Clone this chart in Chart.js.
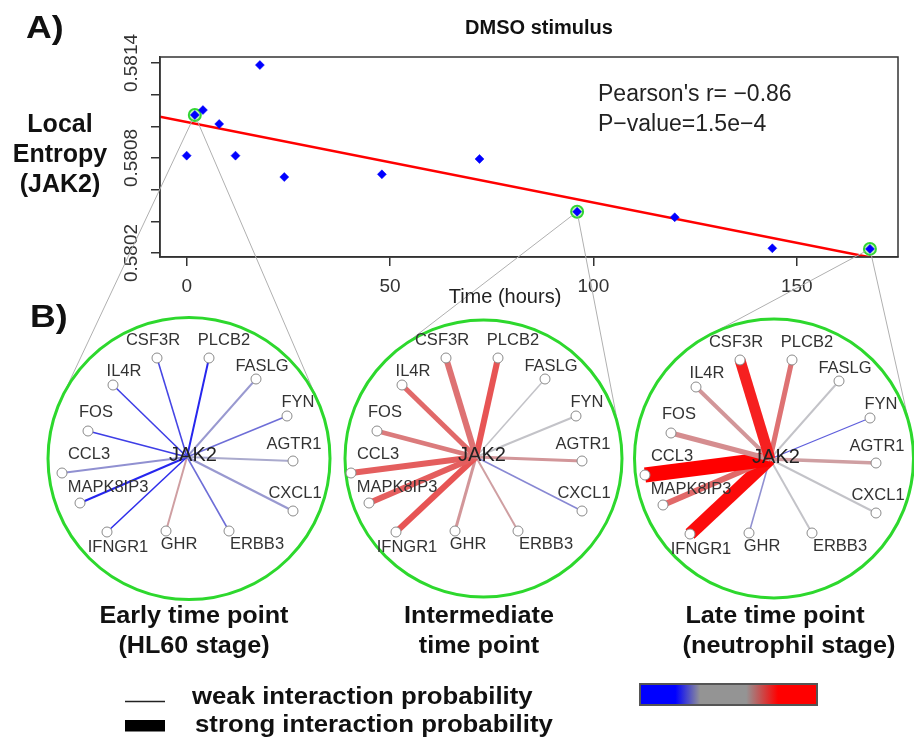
<!DOCTYPE html>
<html><head><meta charset="utf-8">
<script src="https://cdn.jsdelivr.net/npm/chart.js@4/dist/chart.umd.min.js"></script>
<style>
html,body{margin:0;padding:0;background:#fff;width:914px;height:738px;overflow:hidden;}
#wrap{position:relative;width:914px;height:738px;font-family:"Liberation Sans",Arial,sans-serif;color:#111;}
canvas{position:absolute;left:0;top:0;}
.t{position:absolute;white-space:nowrap;}
.b{font-weight:bold;}
.c{transform:translateX(-50%);text-align:center;}
</style></head>
<body><div id="wrap">
<canvas id="cA" width="914" height="738"></canvas>
<canvas id="cB" width="914" height="738"></canvas>
<div class="t b" style="left:26px;top:12px;font-size:31px;line-height:31px;transform:scaleX(1.15);transform-origin:left;">A)</div>
<div class="t b c" style="left:539px;top:17px;font-size:20px;line-height:20px;">DMSO stimulus</div>
<div class="t b c" style="left:60px;top:108px;font-size:25px;line-height:30px;">Local<br>Entropy<br>(JAK2)</div>
<div class="t" style="left:598px;top:78px;font-size:23px;line-height:30px;color:#222;">Pearson's r= −0.86<br>P−value=1.5e−4</div>
<div class="t c" style="left:505px;top:286px;font-size:20px;line-height:20px;color:#222;">Time (hours)</div>
<div class="t b" style="left:30px;top:301px;font-size:31px;line-height:31px;transform:scaleX(1.15);transform-origin:left;">B)</div>
<div class="t b" style="left:194px;top:603px;font-size:24px;line-height:24px;transform:translateX(-50%) scaleX(1.05);">Early time point</div>
<div class="t b" style="left:194px;top:633px;font-size:24px;line-height:24px;transform:translateX(-50%) scaleX(1.05);">(HL60 stage)</div>
<div class="t b" style="left:479px;top:603px;font-size:24px;line-height:24px;transform:translateX(-50%) scaleX(1.05);">Intermediate</div>
<div class="t b" style="left:479px;top:633px;font-size:24px;line-height:24px;transform:translateX(-50%) scaleX(1.05);">time point</div>
<div class="t b" style="left:775px;top:603px;font-size:24px;line-height:24px;transform:translateX(-50%) scaleX(1.05);">Late time point</div>
<div class="t b" style="left:789px;top:633px;font-size:24px;line-height:24px;transform:translateX(-50%) scaleX(1.05);">(neutrophil stage)</div>
<div class="t b" style="left:192px;top:685px;font-size:23px;line-height:23px;transform:scaleX(1.12);transform-origin:left;">weak interaction probability</div>
<div class="t b" style="left:195px;top:713px;font-size:23px;line-height:23px;transform:scaleX(1.12);transform-origin:left;">strong interaction probability</div>
</div>
<script>
// ---------------- data ----------------
const times = [0, 2, 4, 8, 12, 18, 24, 48, 72, 96, 120, 144, 168];
const entropy = [0.580815, 0.581072, 0.581103, 0.581015, 0.580815, 0.581387, 0.580680,
                 0.580697, 0.580794, 0.580461, 0.580426, 0.580230, 0.580226];
const highlightTimes = [2, 96, 168];           // early, intermediate, late
const fitTimes = [-6.56, 174.9];
const fitValues = [0.581061, 0.580138];
const xTickValues = [0, 50, 100, 150];
const xTickLabels = ['0', '50', '100', '150'];
const yTickValues = [0.5802, 0.5804, 0.5806, 0.5808, 0.5810, 0.5812, 0.5814];
const yLabelValues = [0.5802, 0.5808, 0.5814];
const yLabelTexts = ['0.5802', '0.5808', '0.5814'];

const hubGene = 'JAK2';
const genes = ['CSF3R','PLCB2','FASLG','IL4R','FYN','FOS','AGTR1','CCL3','MAPK8IP3','CXCL1','IFNGR1','GHR','ERBB3'];
const layoutX = [-0.24, 0.176, 0.552, -0.592, 0.80, -0.792, 0.848, -1.0, -0.856, 0.848, -0.64, -0.168, 0.336];
const layoutY = [0.792, 0.792, 0.624, 0.576, 0.328, 0.208, -0.032, -0.128, -0.368, -0.432, -0.60, -0.592, -0.592];
// edge sign/colour value (-1 blue ... 0 grey ... 1 red)
const colorEarly = [-0.75, -0.95, -0.25, -0.8, -0.5, -0.8, -0.15, -0.3, -0.95, -0.25, -0.9, 0.2, -0.5];
const colorMid   = [0.45, 0.6, 0, 0.5, 0, 0.4, 0.25, 0.55, 0.55, -0.35, 0.6, 0.25, 0.2];
const colorLate  = [0.85, 0.45, 0, 0.25, -0.6, 0.3, 0.2, 1.0, 0.5, 0, 0.95, -0.3, 0];
// interaction probability (edge width)
const probEarly = [0.04, 0.07, 0.07, 0.04, 0.04, 0.04, 0.08, 0.07, 0.07, 0.1, 0.04, 0.07, 0.04];
const probMid   = [0.36, 0.36, 0.04, 0.29, 0.07, 0.25, 0.14, 0.36, 0.36, 0.04, 0.36, 0.14, 0.07];
const probLate  = [0.71, 0.29, 0.07, 0.21, 0.02, 0.29, 0.18, 1.0, 0.36, 0.07, 0.86, 0.04, 0.07];

// ---------------- style / layout ----------------
const FONT = '"Liberation Sans", Arial, sans-serif';
Chart.defaults.font.family = FONT;
const W = 914, H = 738, U = 125;
const panelHubX = [187, 476, 770];
const panelHubY = [457, 457, 459];
const panelCircles = [[189, 458.5, 141], [483.5, 458.5, 138.5], [774, 458.5, 139.5]];
const labelOffsets = {CSF3R:[-4,-18], PLCB2:[15,-18], FASLG:[6,-13], IL4R:[11,-14], FYN:[11,-14],
  FOS:[8,-19], AGTR1:[1,-17], CCL3:[27,-19], MAPK8IP3:[28,-16], CXCL1:[2,-18],
  IFNGR1:[11,15], GHR:[13,13], ERBB3:[28,13]};
const hubLabelOffset = [6, -1.5];
const edgeStops = [[-1,[30,30,240]],[-0.5,[110,110,215]],[0,[195,195,200]],[0.5,[225,105,105]],[1,[255,0,0]]];
function edgeColor(c){
  for (let i=0;i<edgeStops.length-1;i++){
    const [a,ca]=edgeStops[i],[b,cb]=edgeStops[i+1];
    if (c<=b || i===edgeStops.length-2){
      const t=Math.max(0,Math.min(1,(c-a)/(b-a)));
      return 'rgb('+ca.map((v,k)=>Math.round(v+(cb[k]-v)*t)).join(',')+')';
    }
  }
}
const edgeWidth = p => 1 + 14*p;

// ---------------- chart A : scatter ----------------
const axisCommon = {
  grid:{drawOnChartArea:false, drawTicks:true, tickLength:9, color:'#333', lineWidth:1.5},
  border:{display:true, color:'#333', width:1.5}
};
const chartA = new Chart(document.getElementById('cA'), {
  type:'scatter',
  data:{datasets:[
    {label:'Local entropy', data:times.map((t,i)=>({x:t,y:entropy[i]})), pointStyle:'rectRot',
     pointRadius:4.5, pointBackgroundColor:'#0000ff', pointBorderColor:'#0000ff', pointBorderWidth:0.5, order:0},
    {label:'Selected', data:highlightTimes.map(t=>({x:t,y:entropy[times.indexOf(t)]})), pointStyle:'circle',
     pointRadius:6, pointBackgroundColor:'rgba(150,235,150,0.55)', pointBorderColor:'#33d633', pointBorderWidth:2, order:1},
    {label:'Fit', data:fitTimes.map((t,i)=>({x:t,y:fitValues[i]})), showLine:true, borderColor:'#ff0000',
     borderWidth:2.5, pointRadius:0, clip:0, order:2}
  ]},
  options:{
    responsive:false, devicePixelRatio:1, animation:false, events:[],
    layout:{autoPadding:false, padding:{left:0, top:57, right:16, bottom:431}},
    plugins:{legend:{display:false}, tooltip:{enabled:false}, title:{display:false}},
    scales:{
      x:Object.assign({type:'linear', min:-6.56, max:174.9,
        afterBuildTicks:s=>{s.ticks=xTickValues.map(v=>({value:v}));},
        afterFit:s=>{s.height=50;},
        ticks:{autoSkip:false, maxRotation:0, minRotation:0, padding:9, color:'#333',
               font:{size:19}, callback:(v,i)=>xTickLabels[i]}}, axisCommon),
      y:Object.assign({type:'linear', min:0.580175, max:0.581438,
        afterBuildTicks:s=>{s.ticks=yTickValues.map(v=>({value:v}));},
        afterFit:s=>{s.width=160;},
        ticks:{display:false}}, axisCommon)
    }
  },
  plugins:[{id:'boxA', afterDraw(chart){
    const ctx=chart.ctx, ca=chart.chartArea;
    ctx.save();
    ctx.strokeStyle='#333'; ctx.lineWidth=1.5;
    ctx.strokeRect(ca.left, ca.top, ca.right-ca.left, ca.bottom-ca.top);
    ctx.fillStyle='#333'; ctx.font='19px '+FONT; ctx.textAlign='center'; ctx.textBaseline='alphabetic';
    yLabelValues.forEach((v,i)=>{
      const py=chart.scales.y.getPixelForValue(v);
      ctx.save(); ctx.translate(ca.left-23, py); ctx.rotate(-Math.PI/2);
      ctx.fillText(yLabelTexts[i],0,0); ctx.restore();
    });
    ctx.restore();
  }}]
});

// ---------------- chart B : networks ----------------
const colorSets=[colorEarly,colorMid,colorLate], probSets=[probEarly,probMid,probLate];
const datasetsB=[]; const scalesB={};
for (let p=0;p<3;p++){
  scalesB['x'+p]={type:'linear', display:false, min:-panelHubX[p]/U, max:(W-panelHubX[p])/U};
  scalesB['y'+p]={type:'linear', display:false, min:-(H-panelHubY[p])/U, max:panelHubY[p]/U};
  datasetsB.push({label:'nodes'+p, data:genes.map((g,i)=>({x:layoutX[i],y:layoutY[i]})),
    xAxisID:'x'+p, yAxisID:'y'+p, pointRadius:5, pointBackgroundColor:'#fff',
    pointBorderColor:'#8a8a8a', pointBorderWidth:1, showLine:false, order:0});
  genes.forEach((g,i)=>{
    datasetsB.push({label:hubGene+'-'+g, data:[{x:0,y:0},{x:layoutX[i],y:layoutY[i]}],
      xAxisID:'x'+p, yAxisID:'y'+p, showLine:true, pointRadius:0,
      borderColor:edgeColor(colorSets[p][i]), borderWidth:edgeWidth(probSets[p][i]), order:1});
  });
}
new Chart(document.getElementById('cB'), {
  type:'scatter',
  data:{datasets:datasetsB},
  options:{
    responsive:false, devicePixelRatio:1, animation:false, events:[],
    layout:{autoPadding:false, padding:0},
    plugins:{legend:{display:false}, tooltip:{enabled:false}},
    scales:scalesB
  },
  plugins:[{id:'netDeco',
    beforeDatasetsDraw(chart){
      const ctx=chart.ctx;
      ctx.save();
      // connectors from highlighted scatter points to the panels
      ctx.strokeStyle='#b0b0b0'; ctx.lineWidth=1;
      highlightTimes.forEach((t,p)=>{
        const px=chartA.scales.x.getPixelForValue(t), py=chartA.scales.y.getPixelForValue(entropy[times.indexOf(t)]);
        const [cx,cy,r]=panelCircles[p];
        const dx=px-cx, dy=py-cy, d=Math.hypot(dx,dy);
        const base=Math.atan2(dy,dx), al=Math.acos(r/d);
        [base-al, base+al].forEach(a=>{
          const tx=cx+r*Math.cos(a), ty=cy+r*Math.sin(a);
          const ux=(tx-px), uy=(ty-py), L=Math.hypot(ux,uy);
          ctx.beginPath(); ctx.moveTo(px+ux/L*6, py+uy/L*6); ctx.lineTo(tx,ty); ctx.stroke();
        });
      });
      // panel circles
      ctx.strokeStyle='#2dd82d'; ctx.lineWidth=3;
      panelCircles.forEach(([cx,cy,r])=>{ctx.beginPath(); ctx.arc(cx,cy,r,0,Math.PI*2); ctx.stroke();});
      ctx.restore();
    },
    afterDatasetsDraw(chart){
      const ctx=chart.ctx;
      ctx.save();
      ctx.textAlign='center'; ctx.textBaseline='middle';
      for (let p=0;p<3;p++){
        const xs=chart.scales['x'+p], ys=chart.scales['y'+p];
        ctx.fillStyle='#333'; ctx.font='16.5px '+FONT;
        genes.forEach((g,i)=>{
          const o=labelOffsets[g];
          ctx.fillText(g, xs.getPixelForValue(layoutX[i])+o[0], ys.getPixelForValue(layoutY[i])+o[1]);
        });
        ctx.fillStyle='#222'; ctx.font='20px '+FONT;
        ctx.fillText(hubGene, xs.getPixelForValue(0)+hubLabelOffset[0], ys.getPixelForValue(0)+hubLabelOffset[1]);
      }
      // width legend samples
      ctx.strokeStyle='#222'; ctx.lineWidth=1.5;
      ctx.beginPath(); ctx.moveTo(125,701.5); ctx.lineTo(165,701.5); ctx.stroke();
      ctx.fillStyle='#000'; ctx.fillRect(125,720,40,11.5);
      // colour bar
      const g=ctx.createLinearGradient(640,0,817,0);
      g.addColorStop(0,'#0000ff'); g.addColorStop(0.2,'#0000ff'); g.addColorStop(0.34,'#949494');
      g.addColorStop(0.6,'#949494'); g.addColorStop(0.78,'#ff0000'); g.addColorStop(1,'#ff0000');
      ctx.fillStyle=g; ctx.fillRect(640,684,177,21);
      ctx.strokeStyle='#555'; ctx.lineWidth=2; ctx.strokeRect(640,684,177,21);
      ctx.restore();
    }
  }]
});
</script>
</body></html>
